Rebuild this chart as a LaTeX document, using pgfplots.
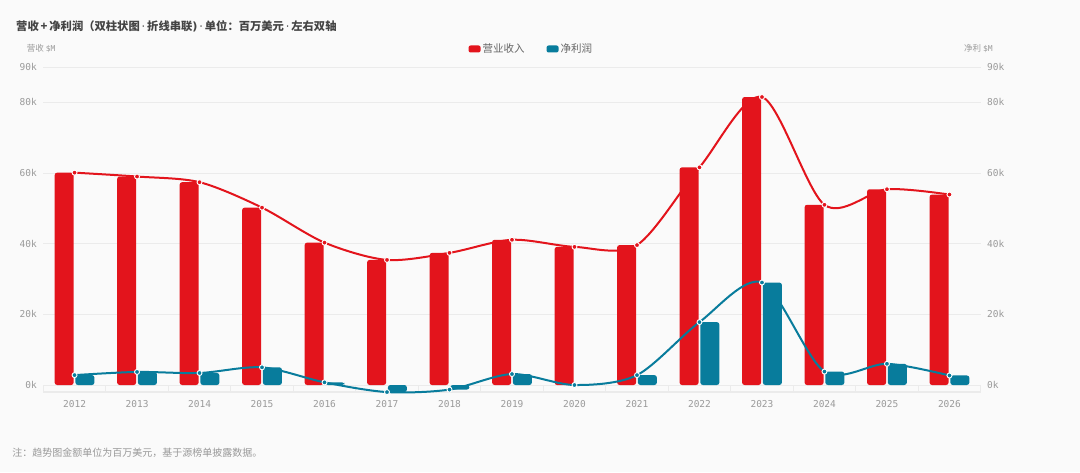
\documentclass[border=0pt]{standalone}
\usepackage{pgfplots}
\pgfplotsset{compat=1.18}
\usepackage{pgfplotstable}
\usepackage{fontspec}
\setmainfont{Noto Sans CJK SC}
\newfontfamily\monof{DejaVu Sans Mono}
\newfontfamily\latinf{DejaVu Sans}
\newcommand{\md}{{\latinf\mdseries\,·\,}}
\definecolor{bg}{HTML}{FAFAFA}
\definecolor{revred}{HTML}{E3141C}
\definecolor{netblue}{HTML}{087C9C}
\definecolor{gridc}{HTML}{EBEBEB}
\definecolor{tickc}{HTML}{9A9A9A}
\definecolor{titlec}{HTML}{444444}
\definecolor{legc}{HTML}{666666}
\definecolor{notec}{HTML}{999999}

\pgfplotstableread{
x rev net
0 60100 2800
1 59000 3700
2 57400 3400
3 50200 5000
4 40300 750
5 35400 -2000
6 37400 -1300
7 41100 3100
8 39100 0
9 39600 2800
10 61600 17800
11 81500 29000
12 51000 3800
13 55400 6000
14 53900 2700
}\data

\begin{document}
\begin{tikzpicture}[x=1pt,y=1pt]
\fill[bg] (0,0) rectangle (1080,472);
\node[anchor=west, font=\bfseries\fontsize{11.3}{14}\selectfont, text=titlec, inner sep=0pt] at (16,446) {营收\,+\,净利润（双柱状图\md 折线串联{\latinf )}\md 单位：百万美元\md 左右双轴};
\node[anchor=west, font=\fontsize{8.5}{10}\selectfont, text=tickc, inner sep=0pt] at (26.7,423) {营收 {\monof\fontsize{8}{10}\selectfont \$M}};
\node[anchor=west, font=\fontsize{8.5}{10}\selectfont, text=tickc, inner sep=0pt] at (964,423) {净利 {\monof\fontsize{8}{10}\selectfont \$M}};
\node[anchor=west, font=\fontsize{10}{12}\selectfont, text=notec, inner sep=0pt] at (12.3,19.3) {注：趋势图金额单位为百万美元，基于源榜单披露数据。};

\begin{axis}[
  at={(43.3pt,79.93pt)}, anchor=south west,
  scale only axis, width=937.4pt, height=325.07pt,
  xmin=-0.5, xmax=14.5, ymin=-2000, ymax=90000,
  clip=false,
  scaled y ticks=false,
  axis x line*=bottom, axis y line*=left,
  y axis line style={draw=none},
  x axis line style={draw=gridc, line width=1.6pt},
  xtick={0,...,14},
  xticklabels={2012,2013,2014,2015,2016,2017,2018,2019,2020,2021,2022,2023,2024,2025,2026},
  minor xtick={-0.5,0.5,...,14.5},
  xtick align=inside,
  major tick length=0pt,
  minor tick length=7pt,
  minor tick style={draw=gridc, line width=0.8pt},
  xticklabel style={font=\monof\fontsize{9.5}{11}\selectfont, text=tickc, yshift=-4.5pt},
  ytick={0,20000,40000,60000,80000,90000},
  yticklabels={0k,20k,40k,60k,80k,90k},
  yticklabel style={font=\monof\fontsize{9.5}{11}\selectfont, text=tickc, xshift=-3pt},
  ymajorgrids, grid style={draw=gridc, line width=0.8pt},
  legend columns=2,
  legend style={at={(0.5206,1.0554)}, anchor=center, draw=none, fill=none,
    font=\fontsize{10.5}{12}\selectfont, text=legc,
    /tikz/every even column/.append style={column sep=20pt}},
]
\addplot[ybar, bar width=19pt, bar shift=-10.4pt, fill=revred, draw=none, rounded corners=2.5pt,
  legend image code/.code={\fill[revred, rounded corners=2pt] (0pt,-3.5pt) rectangle (12pt,3.5pt);}]
  table[x=x,y=rev]{\data};
\addlegendentry{营业收入}
\addplot[ybar, bar width=19pt, bar shift=10.4pt, fill=netblue, draw=none, rounded corners=2.5pt,
  legend image code/.code={\fill[netblue, rounded corners=2pt] (0pt,-3.5pt) rectangle (12pt,3.5pt);}]
  table[x=x,y=net]{\data};
\addlegendentry{净利润}
\addplot[forget plot, revred, line width=2pt, smooth, tension=0.5, mark=*, mark size=2.5pt,
  mark options={fill=revred, draw=white, line width=0.9pt}]
  table[x=x,y=rev]{\data};
\addplot[forget plot, netblue, line width=2pt, smooth, tension=0.5, mark=*, mark size=2.5pt,
  mark options={fill=netblue, draw=white, line width=0.9pt}]
  table[x=x,y=net]{\data};
\end{axis}

\begin{axis}[
  at={(43.3pt,79.93pt)}, anchor=south west,
  scale only axis, width=937.4pt, height=325.07pt,
  xmin=-0.5, xmax=14.5, ymin=-2000, ymax=90000,
  scaled y ticks=false,
  axis x line=none, axis y line*=right,
  y axis line style={draw=none},
  major tick length=0pt,
  ytick={0,20000,40000,60000,80000,90000},
  yticklabels={0k,20k,40k,60k,80k,90k},
  yticklabel style={font=\monof\fontsize{9.5}{11}\selectfont, text=tickc, xshift=3pt},
]
\addplot[draw=none] coordinates {(0,0)};
\end{axis}
\end{tikzpicture}
\end{document}
